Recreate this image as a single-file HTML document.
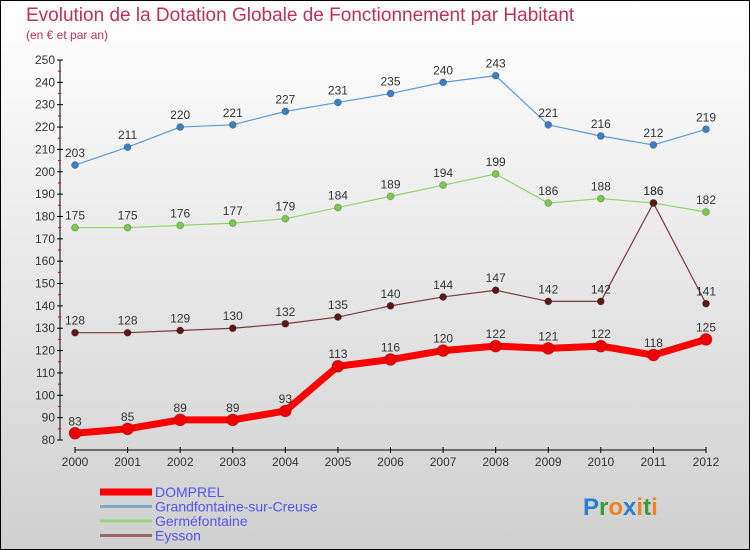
<!DOCTYPE html>
<html><head><meta charset="utf-8"><style>
body{margin:0}
#c{width:750px;height:550px;position:relative;overflow:hidden;background:linear-gradient(#ffffff,#d0d0d0);box-sizing:border-box;border:1px solid #000;font-family:"Liberation Sans",sans-serif}
</style></head><body>
<div id="c">
<svg id="s" width="750" height="550" style="position:absolute;left:-1px;top:-1px">
<text x="26" y="21" font-size="19" fill="#c0305a">Evolution de la Dotation Globale de Fonctionnement par Habitant</text>
<text x="26" y="39" font-size="12" fill="#c0305a">(en € et par an)</text>
</svg>
</div>
<script>
const years=[2000,2001,2002,2003,2004,2005,2006,2007,2008,2009,2010,2011,2012];
const domprel=[83,85,89,89,93,113,116,120,122,121,122,118,125];
const grandfontaine=[203,211,220,221,227,231,235,240,243,221,216,212,219];
const germefontaine=[175,175,176,177,179,184,189,194,199,186,188,186,182];
const eysson=[128,128,129,130,132,135,140,144,147,142,142,186,141];
const yTicks=[80,90,100,110,120,130,140,150,160,170,180,190,200,210,220,230,240,250];
const NS="http://www.w3.org/2000/svg";
const s=document.getElementById('s');
const X=i=>75+i*(706-75)/12;
const Y=v=>440-(v-80)*380/170;
function el(t,a,p){const e=document.createElementNS(NS,t);for(const k in a)e.setAttribute(k,a[k]);(p||s).appendChild(e);return e;}
let ax=el('line',{x1:60,y1:60,x2:60,y2:440,stroke:'#000'});


let bx=el('line',{x1:75,y1:450,x2:706,y2:450,stroke:'#000'});


yTicks.forEach(v=>{
 el('line',{x1:57,x2:63,y1:Y(v),y2:Y(v),stroke:'#000'});
 if(v<250)el('line',{x1:58,x2:61,y1:Y(v+5),y2:Y(v+5),stroke:'#e00'});
 const t=el('text',{x:55,y:Y(v)+4,'font-size':12,fill:'#333','text-anchor':'end'});t.textContent=v;
 
 
});
years.forEach((y,i)=>{
 el('line',{x1:X(i),x2:X(i),y1:447,y2:453,stroke:'#000'});
 const t=el('text',{x:X(i),y:466,'font-size':12,fill:'#333','text-anchor':'middle'});t.textContent=y;
 
 
});
function series(d,col,dot,w,r,name){
 const g=el('g',{});
 
 
 el('polyline',{points:d.map((v,i)=>X(i)+','+Y(v)).join(' '),fill:'none',stroke:col,'stroke-width':w,'stroke-linejoin':'round'},g);
 d.forEach((v,i)=>{
  const c=el('circle',{cx:X(i),cy:Y(v),r:r,fill:dot,stroke:'#0003'},g);
  
  
  const t=el('text',{x:X(i),y:Y(v)-8,'font-size':12,fill:'#333','text-anchor':'middle'},g);t.textContent=v;
 });
}
series(grandfontaine,'#5b9bd5','#3a80c0',1.2,3.5,'series-grandfontaine');
series(germefontaine,'#8fd66a','#7cc84e',1.2,3.5,'series-germefontaine');
series(eysson,'#7a3a3a','#5a1818',1.2,3.5,'series-eysson');
series(domprel,'#ff0000','#ee0000',7,6,'series-domprel');
const leg=[['DOMPREL','#ff0000',7],['Grandfontaine-sur-Creuse','#7aa8cc',3],['Germéfontaine','#9ad67a',3],['Eysson','#9a6a6a',3]];
leg.forEach((l,i)=>{
 const y=492+i*14.5;
 const g=el('g',{});
 
 
 el('line',{x1:100,x2:152,y1:y,y2:y,stroke:l[1],'stroke-width':l[2]},g);
 const t=el('text',{x:155,y:y+5,'font-size':14,fill:'#5555ee'},g);t.textContent=l[0];
});
const p=el('text',{x:583,y:515,'font-size':24,'font-weight':'bold'});


[['P','#2a7fd0'],['r','#3a9a3a'],['o','#f08020'],['x','#2a7fd0'],['i','#f08020'],['t','#3a9a3a'],['i','#f08020']].forEach(c=>{el('tspan',{fill:c[1]},p).textContent=c[0];});
</script>
</body></html>
